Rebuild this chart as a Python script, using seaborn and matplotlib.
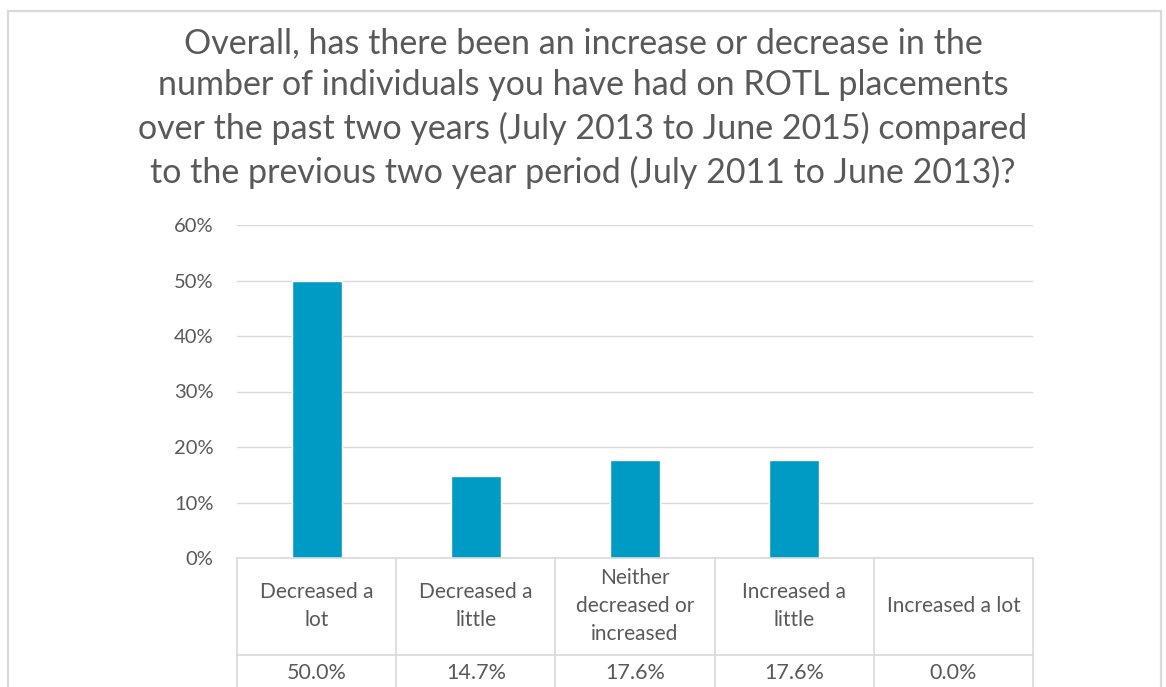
import matplotlib
matplotlib.use("Agg")
import matplotlib.pyplot as plt
from matplotlib.patches import Rectangle
import seaborn as sns
import pandas as pd

categories = ["Decreased a\nlot", "Decreased a\nlittle", "Neither\ndecreased or\nincreased",
              "Increased a\nlittle", "Increased a lot"]
values = [50.0, 14.7, 17.6, 17.6, 0.0]
value_labels = ["50.0%", "14.7%", "17.6%", "17.6%", "0.0%"]
y_ticks = [0, 10, 20, 30, 40, 50, 60]
y_tick_labels = ["0%", "10%", "20%", "30%", "40%", "50%", "60%"]
title = ("Overall, has there been an increase or decrease in the\n"
         "number of individuals you have had on ROTL placements\n"
         "over the past two years (July 2013 to June 2015) compared\n"
         "to the previous two year period (July 2011 to June 2013)?")

sns.set_theme(style="white")
plt.rcParams['font.family'] = ['Lato', 'DejaVu Sans']

W, H = 1166, 687
fig = plt.figure(figsize=(W / 100, H / 100), dpi=100)
fig.patch.set_facecolor("white")

# outer chart border
fig.add_artist(Rectangle((8 / W, -0.05), (1161 - 8) / W, 1.05 - 11 / H,
                         transform=fig.transFigure, fill=False,
                         edgecolor="#D9D9D9", linewidth=1.6))

x0, x1 = 237, 1033
y0, y1 = 558, 225
ax = fig.add_axes([x0 / W, 1 - y0 / H, (x1 - x0) / W, (y0 - y1) / H])

df = pd.DataFrame({"cat": categories, "val": values})
sns.barplot(data=df, x="cat", y="val", ax=ax, color="#009BC4", saturation=1,
            width=0.315, errorbar=None)
ax.set_xlim(-0.5, len(categories) - 0.5)
ax.set_ylim(0, 60)
ax.set_yticks(y_ticks)
ax.set_yticklabels(y_tick_labels, fontsize=14.5, color="#595959")
ax.tick_params(axis="y", length=0, pad=17)
ax.set_xticks([])
ax.set_xlabel("")
ax.set_ylabel("")
ax.grid(axis="y", color="#D9D9D9", linewidth=1)
ax.set_axisbelow(True)
for s in ax.spines.values():
    s.set_visible(False)

# data table below the plot
line_c = "#D9D9D9"
row1_bottom = 655
fy = lambda py: 1 - py / H
fx = lambda px: px / W
ncat = len(categories)
for i in range(ncat + 1):
    xp = x0 + (x1 - x0) * i / ncat
    fig.add_artist(plt.Line2D([fx(xp), fx(xp)], [fy(y0), fy(700)], color=line_c, lw=1.2,
                              transform=fig.transFigure))
fig.add_artist(plt.Line2D([fx(x0), fx(x1)], [fy(y0), fy(y0)], color=line_c, lw=1.2,
                          transform=fig.transFigure))
fig.add_artist(plt.Line2D([fx(x0), fx(x1)], [fy(row1_bottom), fy(row1_bottom)], color=line_c, lw=1.2,
                          transform=fig.transFigure))
for i, (c, v) in enumerate(zip(categories, value_labels)):
    xc = x0 + (x1 - x0) * (i + 0.5) / ncat
    fig.text(fx(xc), fy(606), c, ha="center", va="center", fontsize=15, color="#595959",
             linespacing=1.5)
    fig.text(fx(xc), fy(673), v, ha="center", va="center", fontsize=15.5, color="#595959")

fig.text(0.5, fy(108), title, ha="center", va="center", fontsize=24.5, color="#595959",
         linespacing=1.4)

fig.savefig("out.png", dpi=100, facecolor="white")
